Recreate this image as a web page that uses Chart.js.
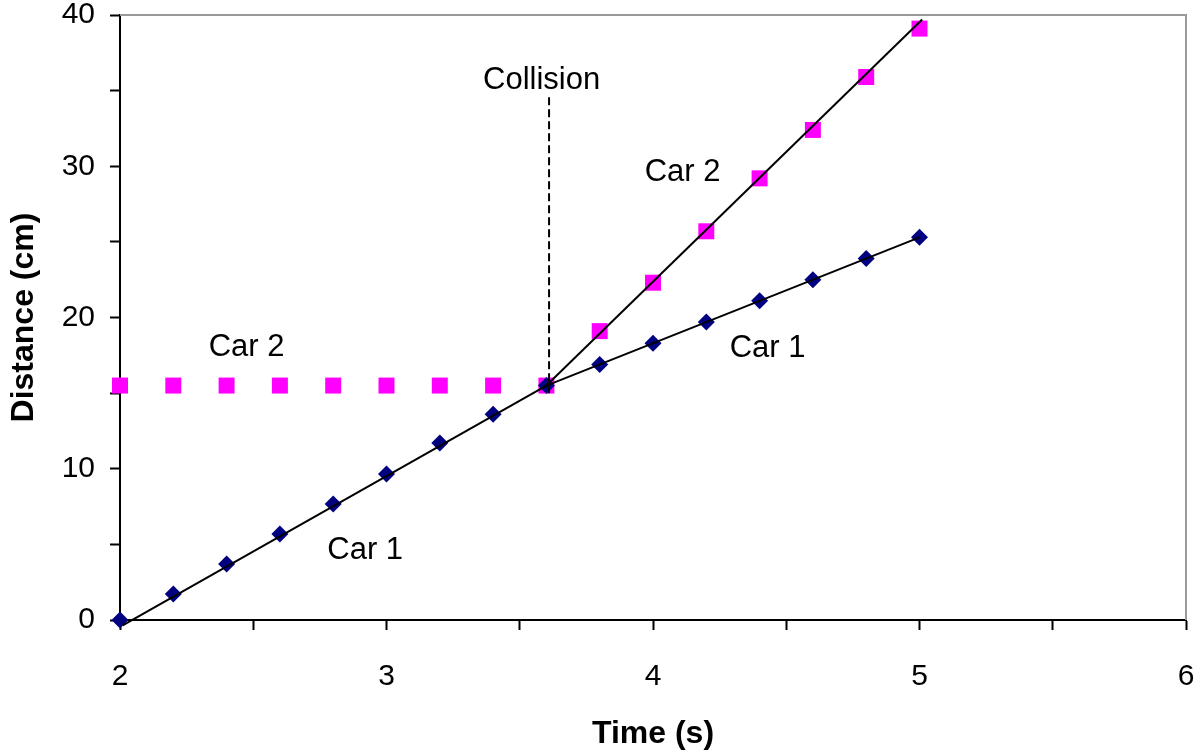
<!DOCTYPE html>
<html>
<head>
<meta charset="utf-8">
<script src="https://cdn.jsdelivr.net/npm/chart.js@4/dist/chart.umd.min.js"></script>
<style>
  body { margin: 0; background: #fff; }
  #wrap { width: 1202px; height: 753px; }
</style>
</head>
<body>
<div id="wrap"><canvas id="chart" width="1202" height="753"></canvas></div>
<script>
// time values (s)
const car1Times = [2.0, 2.2, 2.4, 2.6, 2.8, 3.0, 3.2, 3.4, 3.6, 3.8, 4.0, 4.2, 4.4, 4.6, 4.8, 5.0];
const car1Dist = [0, 1.72, 3.7, 5.69, 7.67, 9.65, 11.7, 13.6, 15.5, 16.9, 18.3, 19.7, 21.1, 22.5, 23.9, 25.3];
const car2Times = [2.0, 2.2, 2.4, 2.6, 2.8, 3.0, 3.2, 3.4, 3.6, 3.8, 4.0, 4.2, 4.4, 4.6, 4.8, 5.0];
const car2Dist = [15.5, 15.5, 15.5, 15.5, 15.5, 15.5, 15.5, 15.5, 15.5, 19.1, 22.3, 25.7, 29.2, 32.4, 35.9, 39.1];

// fitted lines (end points)
const car1Before = [[2.01, -0.35], [3.6, 15.5]];
const car1After = [[3.6, 15.5], [5.0, 25.3]];
const car2After = [[3.6, 15.5], [5.01, 39.7]];
const collisionLine = [[3.61, 15.0], [3.61, 34.8]];

// text labels in data coords
const noteTexts = ['Collision', 'Car 2', 'Car 1', 'Car 2', 'Car 1'];
const noteX = [3.582, 4.111, 4.43, 2.475, 2.92];
const noteY = [35.7, 29.62, 17.98, 18.05, 4.63];

const FONT = 'Liberation Sans, Arial, sans-serif';

const toPts = (xs, ys) => xs.map((x, i) => ({ x: x, y: ys[i] }));
const pairPts = arr => arr.map(p => ({ x: p[0], y: p[1] }));

function lineSet(pts, dash) {
    return {
        data: pairPts(pts),
        showLine: true,
        borderColor: '#000',
        borderWidth: 2,
        borderDash: dash || [],
        pointRadius: 0,
        clip: false,
        order: 0
    };
}

const frame = {
    id: 'frame',
    beforeDatasetsDraw(chart) {
        const a = chart.chartArea;
        const c = chart.ctx;
        c.save();
        c.strokeStyle = '#999';
        c.lineWidth = 2;
        c.beginPath();
        c.moveTo(a.left, a.top);
        c.lineTo(a.right, a.top);
        c.lineTo(a.right, a.bottom);
        c.stroke();
        c.restore();
    }
};

const notes = {
    id: 'notes',
    afterDatasetsDraw(chart) {
        const c = chart.ctx;
        const xs = chart.scales.x, ys = chart.scales.y;
        c.save();
        c.fillStyle = '#000';
        c.font = '31px ' + FONT;
        c.textAlign = 'center';
        c.textBaseline = 'middle';
        noteTexts.forEach((t, i) => {
            c.fillText(t, xs.getPixelForValue(noteX[i]), ys.getPixelForValue(noteY[i]));
        });
        c.restore();
    }
};

// keep the plot box where the original has it
function fixPad(s) {
    s.paddingTop = 0;
    s.paddingBottom = 0;
    s.paddingLeft = 0;
    s.paddingRight = 0;
}

new Chart(document.getElementById('chart'), {
    type: 'scatter',
    data: {
        datasets: [
            lineSet(car1Before),
            lineSet(car1After),
            lineSet(car2After),
            lineSet(collisionLine, [8, 4]),
            {
                label: 'Car 1',
                data: toPts(car1Times, car1Dist),
                pointStyle: 'rectRot',
                pointRadius: 8.5,
                pointBackgroundColor: '#000080',
                pointBorderColor: '#000080',
                pointBorderWidth: 0,
                clip: false,
                order: 1
            },
            {
                label: 'Car 2',
                data: toPts(car2Times, car2Dist),
                pointStyle: 'rect',
                pointRadius: 11.3,
                pointBackgroundColor: '#ff00ff',
                pointBorderColor: '#ff00ff',
                pointBorderWidth: 0,
                clip: false,
                order: 1
            }
        ]
    },
    options: {
        responsive: false,
        animation: false,
        layout: { padding: { top: 15, right: 16, left: 0, bottom: 0 } },
        plugins: {
            legend: { display: false },
            tooltip: { enabled: false }
        },
        scales: {
            x: {
                type: 'linear',
                min: 2,
                max: 6,
                afterFit: s => { s.height = 133; fixPad(s); },
                ticks: {
                    stepSize: 0.5,
                    autoSkip: false,
                    maxRotation: 0,
                    padding: 29,
                    color: '#000',
                    font: { family: FONT, size: 30 },
                    callback: v => Number.isInteger(v) ? v : ''
                },
                grid: { drawOnChartArea: false, tickLength: 10, color: '#000', tickWidth: 2 },
                border: { color: '#000', width: 2 },
                title: {
                    display: true,
                    text: 'Time (s)',
                    color: '#000',
                    font: { family: FONT, size: 32, weight: 'bold' },
                    padding: { top: 0, bottom: 0 }
                }
            },
            y: {
                min: 0,
                max: 40,
                afterFit: s => { s.width = 120; fixPad(s); },
                ticks: {
                    stepSize: 5,
                    autoSkip: false,
                    padding: 15,
                    color: '#000',
                    font: { family: FONT, size: 30 },
                    callback: v => v % 10 === 0 ? v : ''
                },
                grid: { drawOnChartArea: false, tickLength: 10, color: '#000', tickWidth: 2 },
                border: { color: '#000', width: 2 },
                title: {
                    display: true,
                    text: 'Distance (cm)',
                    color: '#000',
                    font: { family: FONT, size: 32, weight: 'bold' },
                    padding: { top: 5, bottom: 0 }
                }
            }
        }
    },
    plugins: [frame, notes]
});
</script>
</body>
</html>
